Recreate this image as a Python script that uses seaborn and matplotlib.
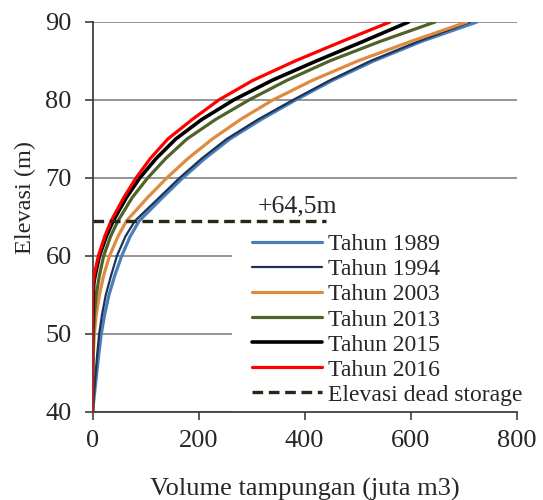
import numpy as np
import pandas as pd
import matplotlib
matplotlib.use("Agg")
import matplotlib.pyplot as plt
import seaborn as sns
from matplotlib.lines import Line2D
from matplotlib.patches import Rectangle

# ---- data ----
elev_1989 = [40, 42.5, 45, 47.5, 50, 52.5, 55, 57.5, 60, 62.5, 64.5, 67.5, 70, 72.5, 75, 77.5, 80, 82.5, 85, 87.5, 90]
vol_1989 = [0, 4, 8, 12, 16.5, 23, 31, 42, 55, 71, 88, 132, 170, 212, 259, 318, 383, 452, 530, 620, 725]

elev_1994 = [40, 42.5, 45, 47.5, 50, 52.5, 55, 57.5, 60, 62.5, 64.5, 67.5, 70, 72.5, 75, 77.5, 80, 82.5, 85, 87.5, 90]
vol_1994 = [0, 3, 6, 9, 12.5, 18, 25, 35, 46, 62, 80, 126, 164, 206, 253, 312, 378, 447, 524, 614, 712]

elev_2003 = [40, 45, 47.5, 50, 52.5, 55, 57.5, 60, 62.5, 64.5, 67.5, 70, 72.5, 75, 77.5, 80, 82.5, 85, 87.5, 90]
vol_2003 = [0, 0.5, 1.5, 3.5, 7, 13, 21, 32, 48, 64, 104, 140, 180, 226, 279, 340, 414, 500, 600, 706]

elev_2013 = [40, 47.5, 50, 52.5, 55, 57.5, 60, 62.5, 64.5, 67.5, 70, 72.5, 75, 77.5, 80, 82.5, 85, 87.5, 90]
vol_2013 = [0, 0.5, 1.5, 3.5, 7, 13, 21, 34, 48, 75, 104, 138, 178, 232, 295, 366, 447, 542, 646]

elev_2015 = [40, 50, 55, 56.5, 57.5, 60, 62.5, 64.5, 67.5, 70, 72.5, 75, 77.5, 80, 82.5, 85, 87.5, 90]
vol_2015 = [0, 0, 1.5, 2.5, 5, 13, 26, 39, 64, 89, 120, 157, 206, 266, 338, 422, 510, 596]

elev_2016 = [40, 50, 55, 56.5, 57.5, 60, 62.5, 64.5, 67.5, 70, 72.5, 75, 77.5, 80, 82.5, 85, 87.5, 90]
vol_2016 = [0, 0, 0.5, 1, 3, 11, 23, 35, 59, 82, 109, 142, 188, 238, 302, 382, 470, 561]

dead_x = [0, 440]
dead_y = [64.5, 64.5]
dead_label = "+64,5m"

labels = ["Tahun 1989", "Tahun 1994", "Tahun 2003", "Tahun 2013", "Tahun 2015", "Tahun 2016"]
colors = ["#4a7ebb", "#1c3356", "#e08a40", "#4f6228", "#000000", "#ff0000"]
widths = [2.3, 1.6, 2.3, 2.3, 2.6, 2.3]

x_ticks = [0, 200, 400, 600, 800]
y_ticks = [40, 50, 60, 70, 80, 90]

series = [
    (elev_1989, vol_1989), (elev_1994, vol_1994), (elev_2003, vol_2003),
    (elev_2013, vol_2013), (elev_2015, vol_2015), (elev_2016, vol_2016),
]

sns.set_theme(style="white")
plt.rcParams["font.family"] = ["Liberation Serif", "DejaVu Serif"]

fig = plt.figure(figsize=(5.43, 5.00), dpi=100)
ax = fig.add_axes([92.5 / 543, 1 - 412 / 500, (516.7 - 92.5) / 543, 390 / 500])

handles = []
for (el, vo), lab, col, lw in zip(series, labels, colors, widths):
    df = pd.DataFrame({"volume": vo, "elev": el})
    sns.lineplot(data=df, x="volume", y="elev", sort=False, estimator=None,
                 color=col, linewidth=lw, ax=ax, zorder=3)
    ax.lines[-1].set_solid_joinstyle("round")
    handles.append(Line2D([], [], color=col, linewidth=lw, label=lab))

dfd = pd.DataFrame({"volume": dead_x, "elev": dead_y})
sns.lineplot(data=dfd, x="volume", y="elev", sort=False, estimator=None,
             color="#262619", linewidth=2.4, ax=ax, zorder=4)
ax.lines[-1].set_dashes((3.2, 1.7))
handles.append(Line2D([], [], color="#262619", linewidth=2.4, dashes=(3.2, 1.7),
                      label="Elevasi dead storage"))

ax.text(387, 65.6, dead_label, fontsize=18.5, ha="center", va="baseline", zorder=5)

ax.set_xlim(0, 800)
ax.set_ylim(40, 90)
ax.set_xticks(x_ticks)
ax.set_yticks(y_ticks)
ax.yaxis.grid(True, color="#8c8c8c", linewidth=1.3, zorder=0)
ax.xaxis.grid(False)
ax.set_axisbelow(True)

# white legend background area hiding the gridlines behind the legend
ax.add_patch(Rectangle((0.329, 0.0), 0.671, 0.45, transform=ax.transAxes,
                       facecolor="white", edgecolor="none", zorder=1))

for s in ["top", "right"]:
    ax.spines[s].set_visible(False)
for s in ["left", "bottom"]:
    ax.spines[s].set_color("#404040")
    ax.spines[s].set_linewidth(1.3)
    ax.spines[s].set_zorder(2.5)

ax.tick_params(axis="y", direction="out", length=6, width=1.2, color="#404040",
               labelsize=19, pad=9, left=True)
ax.tick_params(axis="x", direction="out", length=6, width=1.2, color="#404040",
               labelsize=19, pad=7, bottom=True)

ax.set_xlabel("Volume tampungan (juta m3)", fontsize=19)
ax.set_ylabel("Elevasi (m)", fontsize=17.5)
ax.xaxis.set_label_coords(0.5, -0.168)
ax.yaxis.set_label_coords(-0.133, 0.549)

leg = ax.legend(handles=handles, loc="upper left", bbox_to_anchor=(0.376, 0.457),
                fontsize=17, frameon=False, borderpad=0, labelspacing=0.15,
                handlelength=2.96, handletextpad=0.25, borderaxespad=0)
leg.set_zorder(6)

fig.savefig("out.png", dpi=100)
